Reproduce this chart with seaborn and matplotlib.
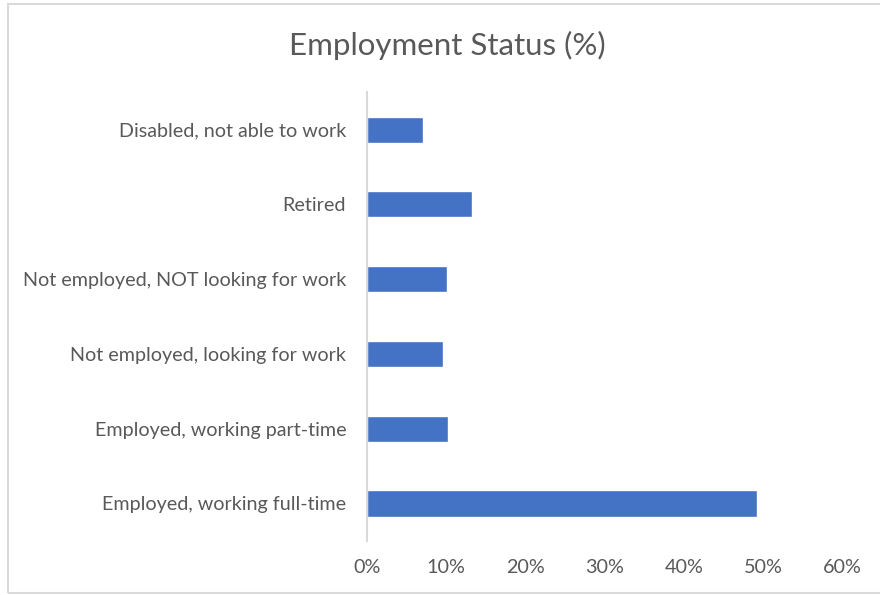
import seaborn as sns
import matplotlib.pyplot as plt
import pandas as pd
from matplotlib.ticker import PercentFormatter
from matplotlib.patches import Rectangle

categories = [
    "Disabled, not able to work",
    "Retired",
    "Not employed, NOT looking for work",
    "Not employed, looking for work",
    "Employed, working part-time",
    "Employed, working full-time",
]
percent = [7.1, 13.3, 10.1, 9.6, 10.2, 49.3]
x_ticks = [0, 10, 20, 30, 40, 50, 60]

df = pd.DataFrame({"status": categories, "pct": percent})

sns.set_style("white")
plt.rcParams['font.family'] = ['Lato', 'DejaVu Sans']
grey = '#595959'

fig = plt.figure(figsize=(8.8, 5.95), dpi=100)
# chart border (extends past the right edge of the image like the reference)
fig.add_artist(Rectangle((7.5 / 880, 2.5 / 595), 1.0, 1 - 6.5 / 595,
                         transform=fig.transFigure, fill=False,
                         edgecolor='#D9D9D9', linewidth=1.5))
ax = fig.add_axes([0.417, 0.091, 0.540, 0.754])

sns.barplot(data=df, x="pct", y="status", order=categories, color='#4472C4',
            width=0.35, saturation=1, ax=ax)

ax.set_xlim(0, 60)
ax.set_xticks(x_ticks)
ax.xaxis.set_major_formatter(PercentFormatter(decimals=0))
ax.set_xlabel("")
ax.set_ylabel("")
ax.tick_params(axis='both', length=0, labelsize=14.2, colors=grey)
ax.tick_params(axis='y', pad=15)
ax.tick_params(axis='x', pad=13)

for side in ['top', 'right', 'bottom']:
    ax.spines[side].set_visible(False)
ax.spines['left'].set_color('#D9D9D9')
ax.spines['left'].set_linewidth(1.5)

fig.text(0.508, 0.924, "Employment Status (%)", ha='center', va='center',
         fontsize=22.5, color=grey)

fig.savefig("out.png", dpi=100)
